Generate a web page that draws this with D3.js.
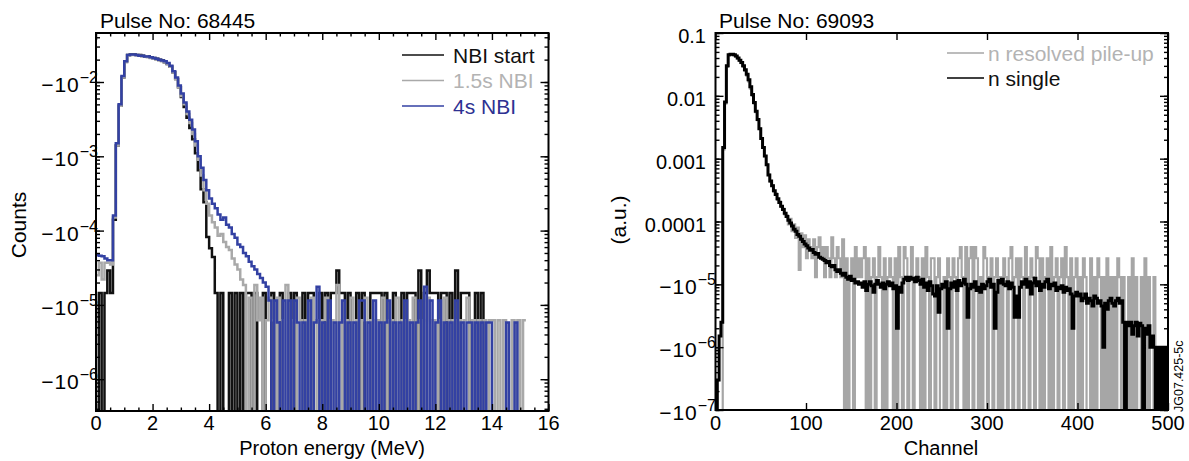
<!DOCTYPE html>
<html>
<head>
<meta charset="utf-8">
<script src="https://cdn.jsdelivr.net/npm/d3@7"></script>
<style>
  body { margin: 0; background: #fff; }
  svg { display: block; font-family: "Liberation Sans", Arial, Helvetica, sans-serif; }
</style>
</head>
<body>
<div id="chart"></div>
<script>
// ---- left panel: proton spectra, 0.1 MeV bins starting at 0 MeV ----
const energyBin = 0.1;
const nbiStart = [
  0, 1.45e-5, 0, 1.45e-5, 2.9e-5, 1.45e-5, 1.4e-4, 1.4e-3, 4.8e-3, 1.15e-2,
  1.9e-2, 2.3e-2, 2.35e-2, 2.35e-2, 2.3e-2, 2.3e-2, 2.25e-2, 2.2e-2, 2.2e-2, 2.15e-2,
  2.1e-2, 2.05e-2, 2.0e-2, 1.95e-2, 1.85e-2, 1.75e-2, 1.6e-2, 1.35e-2, 1.1e-2, 8.5e-3,
  6.3e-3, 4.6e-3, 3.3e-3, 2.4e-3, 1.7e-3, 1.1e-3, 6.5e-4, 3.6e-4, 2.4e-4, 8.2e-5,
  5.8e-5, 4.4e-5, 1.45e-5, 0, 1.45e-5, 0, 0, 1.45e-5, 0, 1.45e-5,
  0, 1.45e-5, 0, 1.45e-5, 1.45e-5, 0, 1.45e-5, 0, 0, 1.45e-5,
  0, 0, 1.45e-5, 0, 0, 1.45e-5, 0, 0, 1.45e-5, 0,
  1.45e-5, 0, 0, 1.45e-5, 0, 1.45e-5, 1.45e-5, 0, 0, 1.45e-5,
  0, 1.45e-5, 0, 1.45e-5, 1.45e-5, 2.9e-5, 1.45e-5, 1.45e-5, 0, 1.45e-5,
  0, 0, 1.45e-5, 0, 1.45e-5, 0, 0, 1.45e-5, 1.45e-5, 1.45e-5,
  1.45e-5, 0, 1.45e-5, 0, 0, 1.45e-5, 0, 0, 1.45e-5, 0,
  1.45e-5, 1.45e-5, 1.45e-5, 0, 2.9e-5, 0, 1.45e-5, 2.9e-5, 1.45e-5, 1.45e-5,
  1.45e-5, 0, 1.45e-5, 1.45e-5, 0, 1.45e-5, 0, 2.9e-5, 0, 1.45e-5,
  1.45e-5, 1.45e-5, 0, 0, 1.45e-5, 0, 1.45e-5, 0, 0, 0,
  0, 0, 0, 0, 0, 0, 0, 0, 0, 0, 0, 0
];
const nbi15s = [
  2.5e-5, 3.7e-5, 2.2e-5, 3.7e-5, 3.7e-5, 3.5e-5, 1.5e-4, 1.4e-3, 4.8e-3, 1.15e-2,
  1.85e-2, 2.25e-2, 2.3e-2, 2.3e-2, 2.3e-2, 2.25e-2, 2.2e-2, 2.2e-2, 2.15e-2, 2.1e-2,
  2.05e-2, 2.0e-2, 1.95e-2, 1.9e-2, 1.85e-2, 1.75e-2, 1.6e-2, 1.35e-2, 1.1e-2, 8.5e-3,
  6.5e-3, 5.0e-3, 3.7e-3, 2.8e-3, 2.0e-3, 1.4e-3, 9.0e-4, 5.5e-4, 3.5e-4, 2.3e-4,
  1.6e-4, 1.3e-4, 1.1e-4, 8.5e-5, 9.0e-5, 7.0e-5, 6.0e-5, 5.5e-5, 4.2e-5, 3.5e-5,
  3.0e-5, 2.2e-5, 1.85e-5, 0, 1.25e-5, 0, 1.85e-5, 6.2e-6, 1.25e-5, 0,
  6.2e-6, 1.25e-5, 6.2e-6, 0, 1.25e-5, 6.2e-6, 0, 1.85e-5, 0, 6.2e-6,
  0, 1.25e-5, 6.2e-6, 0, 6.2e-6, 0, 1.25e-5, 0, 6.2e-6, 0,
  6.2e-6, 1.25e-5, 0, 6.2e-6, 0, 1.85e-5, 0, 6.2e-6, 6.2e-6, 0,
  1.25e-5, 0, 6.2e-6, 0, 6.2e-6, 1.25e-5, 0, 6.2e-6, 0, 6.2e-6,
  0, 1.25e-5, 0, 6.2e-6, 6.2e-6, 0, 1.25e-5, 0, 6.2e-6, 0,
  6.2e-6, 0, 1.25e-5, 0, 6.2e-6, 0, 6.2e-6, 1.25e-5, 0, 6.2e-6,
  0, 6.2e-6, 0, 1.25e-5, 6.2e-6, 0, 6.2e-6, 0, 6.2e-6, 0,
  6.2e-6, 1.25e-5, 0, 6.2e-6, 0, 6.2e-6, 0, 6.2e-6, 0, 6.2e-6,
  6.2e-6, 0, 6.2e-6, 0, 6.2e-6, 0, 0, 6.2e-6, 0, 6.2e-6, 0, 6.2e-6
];
const nbi4s = [
  4.7e-5, 4.6e-5, 4.5e-5, 4.2e-5, 4.0e-5, 4.0e-5, 1.6e-4, 1.5e-3, 5.0e-3, 1.2e-2,
  1.9e-2, 2.3e-2, 2.35e-2, 2.35e-2, 2.3e-2, 2.25e-2, 2.25e-2, 2.2e-2, 2.2e-2, 2.15e-2,
  2.1e-2, 2.05e-2, 2.0e-2, 1.95e-2, 1.9e-2, 1.8e-2, 1.65e-2, 1.4e-2, 1.15e-2, 9.0e-3,
  7.0e-3, 5.3e-3, 4.0e-3, 3.1e-3, 2.3e-3, 1.6e-3, 1.0e-3, 7.0e-4, 4.8e-4, 3.5e-4,
  2.7e-4, 2.3e-4, 2.0e-4, 1.65e-4, 1.4e-4, 1.5e-4, 1.2e-4, 1.1e-4, 9.0e-5, 8.0e-5,
  6.5e-5, 6.0e-5, 5.0e-5, 4.5e-5, 3.8e-5, 3.3e-5, 3.0e-5, 2.6e-5, 2.3e-5, 2.0e-5,
  1.75e-5, 1.15e-5, 0, 1.15e-5, 5.8e-6, 0, 1.15e-5, 0, 1.15e-5, 0,
  1.15e-5, 5.8e-6, 0, 5.8e-6, 0, 1.15e-5, 0, 5.8e-6, 1.75e-5, 0,
  5.8e-6, 0, 1.15e-5, 0, 5.8e-6, 0, 5.8e-6, 1.15e-5, 0, 5.8e-6,
  0, 5.8e-6, 0, 1.15e-5, 1.15e-5, 0, 5.8e-6, 0, 1.15e-5, 0,
  5.8e-6, 0, 5.8e-6, 1.15e-5, 0, 5.8e-6, 0, 5.8e-6, 0, 1.15e-5,
  0, 5.8e-6, 0, 5.8e-6, 1.15e-5, 0, 1.75e-5, 0, 1.15e-5, 0,
  5.8e-6, 1.15e-5, 0, 5.8e-6, 0, 5.8e-6, 0, 1.15e-5, 0, 5.8e-6,
  0, 5.8e-6, 5.8e-6, 0, 5.8e-6, 0, 5.8e-6, 0, 5.8e-6, 5.8e-6,
  0, 0, 0, 0, 0, 5.8e-6, 0, 0, 5.8e-6, 0, 0, 0
];

// ---- right panel: neutron spectra, 2-channel bins starting at channel 0 ----
const channelBin = 2;
const nSingle = [
  0, 3e-7, 1.5e-6, 2.5e-6, 1.5e-3, 8e-3, 0.03, 0.045, 0.046, 0.046,
  0.045, 0.043, 0.04, 0.037, 0.034, 0.03, 0.026, 0.022, 0.018, 0.014,
  0.0105, 0.0078, 0.0057, 0.0042, 0.003, 0.0021, 0.0015, 0.0011, 8e-4, 5.5e-4,
  4.4e-4, 3.7e-4, 3.1e-4, 2.7e-4, 2.3e-4, 2e-4, 1.75e-4, 1.55e-4, 1.35e-4, 1.2e-4,
  1.05e-4, 9.5e-5, 8.5e-5, 7.5e-5, 7e-5, 6.2e-5, 5.8e-5, 5.2e-5, 4.8e-5, 4.4e-5,
  4.1e-5, 3.8e-5, 3.5e-5, 3.6e-5, 3.2e-5, 3.0e-5, 3.1e-5, 2.7e-5, 2.6e-5, 2.5e-5,
  2.4e-5, 2.2e-5, 2.3e-5, 2.0e-5, 1.9e-5, 2.0e-5, 1.7e-5, 1.6e-5, 1.7e-5, 1.5e-5,
  1.4e-5, 1.5e-5, 1.3e-5, 1.2e-5, 1.35e-5, 1.15e-5, 1.2e-5, 1.05e-5, 1.1e-5, 1.0e-5,
  1.05e-5, 9e-6, 1.1e-5, 8e-6, 1e-5, 1.1e-5, 9.5e-6, 7.5e-6, 1.0e-5, 1.15e-5,
  1.0e-5, 9e-6, 1.05e-5, 8.5e-6, 1.0e-5, 1.1e-5, 9.5e-6, 1.05e-5, 8.5e-6, 9.5e-6,
  2e-6, 9e-6, 7.5e-6, 1.05e-5, 1.2e-5, 1.3e-5, 1.15e-5, 1.3e-5, 1.2e-5, 1.25e-5,
  1.1e-5, 1.3e-5, 1.15e-5, 1.0e-5, 1.2e-5, 9e-6, 1.05e-5, 8e-6, 1.1e-5, 9.5e-6,
  7e-6, 6.5e-6, 9.5e-6, 3.6e-6, 8.5e-6, 1.0e-5, 9e-6, 1.1e-5, 2e-6, 8.5e-6,
  1.05e-5, 9e-6, 1.1e-5, 8e-6, 1.15e-5, 9.5e-6, 1.05e-5, 1.2e-5, 1.0e-5, 3e-6,
  8.5e-6, 1.0e-5, 9e-6, 1.1e-5, 8e-6, 9e-6, 7.5e-6, 1.0e-5, 8.5e-6, 9.5e-6,
  1.1e-5, 1.2e-5, 9e-6, 1.0e-5, 2e-6, 7.5e-6, 1.15e-5, 1.05e-5, 1.2e-5, 1.0e-5,
  9.5e-6, 1.1e-5, 8.5e-6, 1.05e-5, 9e-6, 3e-6, 6.5e-6, 3e-6, 9e-6, 1.1e-5,
  1.0e-5, 1.2e-5, 9e-6, 1.1e-5, 7e-6, 1.05e-5, 1.25e-5, 9.5e-6, 1.1e-5, 8e-6,
  1.0e-5, 9e-6, 1.1e-5, 1.2e-5, 8.5e-6, 1.0e-5, 9.5e-6, 1.05e-5, 8e-6, 9e-6,
  8.5e-6, 9.5e-6, 7.5e-6, 9e-6, 8e-6, 8.5e-6, 7e-6, 2e-6, 6.5e-6, 7.5e-6,
  6.5e-6, 7e-6, 5.5e-6, 6e-6, 7e-6, 5e-6, 6e-6, 5.5e-6, 4.5e-6, 6.5e-6,
  6e-6, 5e-6, 5.5e-6, 4.5e-6, 1e-6, 5e-6, 4e-6, 5.5e-6, 6e-6, 5e-6,
  4.5e-6, 5.5e-6, 6e-6, 5e-6, 5.5e-6, 2.5e-6, 0, 2.5e-6, 2.2e-6, 2.5e-6,
  1.6e-6, 2.2e-6, 2.5e-6, 1.5e-6, 2.4e-6, 2.2e-6, 0, 2e-6, 1.6e-6, 2.2e-6,
  1e-6, 1.5e-6, 1e-6, 0, 1e-6, 0, 1e-6, 0, 1e-6, 0
];
const nPileUp = [
  0, 0, 0, 0, 1.4e-3, 7.5e-3, 0.029, 0.044, 0.045, 0.045,
  0.044, 0.042, 0.039, 0.036, 0.033, 0.029, 0.025, 0.021, 0.017, 0.013,
  0.01, 0.0075, 0.0055, 0.0041, 0.003, 0.0021, 0.0015, 0.0011, 8e-4, 5.6e-4,
  4.3e-4, 3.8e-4, 3.0e-4, 2.8e-4, 2.2e-4, 2.1e-4, 1.7e-4, 1.6e-4, 1.3e-4, 1.25e-4,
  9e-5, 1.1e-4, 7e-5, 9e-5, 5.5e-5, 8e-5, 1.7e-5, 6.5e-5, 3.9e-5, 6e-5,
  2.6e-5, 5.2e-5, 3.9e-5, 2.6e-5, 5.2e-5, 1.3e-5, 3.9e-5, 5.6e-5, 2.6e-5, 3.9e-5,
  1.3e-5, 3.9e-5, 2.6e-5, 1.3e-5, 5.6e-5, 2.6e-5, 1.3e-5, 3.9e-5, 2.6e-5, 1.3e-5,
  5.2e-5, 0, 2.6e-5, 0, 1.3e-5, 2.6e-5, 0, 3.9e-5, 1.3e-5, 2.6e-5,
  1.3e-5, 2.6e-5, 3.9e-5, 0, 2.6e-5, 0, 1.3e-5, 2.6e-5, 0, 1.3e-5,
  3.9e-5, 1.3e-5, 0, 2.6e-5, 0, 1.3e-5, 2.6e-5, 1.3e-5, 0, 2.6e-5,
  0, 3.9e-5, 1.3e-5, 0, 3.9e-5, 2.6e-5, 0, 1.3e-5, 3.9e-5, 0,
  1.3e-5, 2.6e-5, 1.3e-5, 0, 2.6e-5, 0, 3.9e-5, 1.3e-5, 0, 2.6e-5,
  2.6e-5, 0, 1.3e-5, 2.6e-5, 0, 0, 1.3e-5, 0, 2.6e-5, 1.3e-5,
  0, 2.6e-5, 1.3e-5, 0, 2.6e-5, 3.9e-5, 1.3e-5, 0, 3.9e-5, 0,
  2.6e-5, 3.9e-5, 0, 3.9e-5, 2.6e-5, 0, 1.3e-5, 0, 3.9e-5, 2.6e-5,
  0, 1.3e-5, 2.6e-5, 0, 1.3e-5, 2.6e-5, 0, 1.3e-5, 0, 2.6e-5,
  1.3e-5, 0, 2.6e-5, 3.9e-5, 0, 1.3e-5, 2.6e-5, 0, 2.6e-5, 1.3e-5,
  0, 3.9e-5, 1.3e-5, 0, 2.6e-5, 1.3e-5, 0, 3.9e-5, 2.6e-5, 0,
  2.6e-5, 0, 1.3e-5, 2.6e-5, 0, 3.9e-5, 0, 1.3e-5, 2.6e-5, 0,
  1.3e-5, 2.6e-5, 0, 3.9e-5, 1.3e-5, 0, 2.6e-5, 0, 1.3e-5, 2.6e-5,
  0, 1.3e-5, 0, 2.6e-5, 1.3e-5, 0, 0, 2.6e-5, 0, 1.3e-5,
  0, 2.6e-5, 1.3e-5, 0, 1.3e-5, 0, 2.6e-5, 0, 1.3e-5, 0,
  1.3e-5, 0, 2.6e-5, 1.3e-5, 0, 1.3e-5, 0, 0, 1.3e-5, 0,
  2.6e-5, 0, 1.3e-5, 0, 0, 1.3e-5, 0, 2.6e-5, 0, 1.3e-5,
  0, 0, 1.3e-5, 0, 0, 0, 0, 0, 0, 0
];

// ---- ticks and labels ----
const leftXTicks = [0, 2, 4, 6, 8, 10, 12, 14, 16];
const leftXMinor = [0.5, 1, 1.5, 2.5, 3, 3.5, 4.5, 5, 5.5, 6.5, 7, 7.5, 8.5, 9, 9.5,
  10.5, 11, 11.5, 12.5, 13, 13.5, 14.5, 15, 15.5];
const leftYTicks = [1e-2, 1e-3, 1e-4, 1e-5, 1e-6];
const leftYExp = ["\u22122", "\u22123", "\u22124", "\u22125", "\u22126"];
const rightXTicks = [0, 100, 200, 300, 400, 500];
const rightYTicks = [1e-1, 1e-2, 1e-3, 1e-4, 1e-5, 1e-6, 1e-7];
const rightYText = ["0.1", "0.01", "0.001", "0.0001", "\u221210", "\u221210", "\u221210"];
const rightYExp = [null, null, null, null, "\u22125", "\u22126", "\u22127"];

const W = 1189, H = 461;
const svg = d3.select("#chart").append("svg").attr("width", W).attr("height", H);

function stepPath(values, binW, x, y, bottom) {
  const pts = values.map((v, i) => [x(i * binW), v > 0 ? y(v) : bottom]);
  pts.push([x(values.length * binW), pts[pts.length - 1][1]]);
  return d3.line().curve(d3.curveStepAfter)(pts);
}

function frameTicks(g, x, y, xMajor, xMinor, yMajor) {
  const [x0, x1] = x.range();
  const [y1, y0] = y.range();
  const minorY = y.ticks();
  const tk = (sel) => sel.call(s => s.select(".domain").remove())
    .selectAll("line").attr("stroke", "#000").attr("stroke-width", 1.4);
  g.append("g").attr("transform", `translate(${x0},0)`)
    .call(d3.axisLeft(y).tickValues(minorY).tickSize(-4).tickFormat("")).call(tk);
  g.append("g").attr("transform", `translate(${x0},0)`)
    .call(d3.axisLeft(y).tickValues(yMajor).tickSize(-8).tickFormat("")).call(tk);
  g.append("g").attr("transform", `translate(${x1},0)`)
    .call(d3.axisRight(y).tickValues(minorY).tickSize(-4).tickFormat("")).call(tk);
  g.append("g").attr("transform", `translate(${x1},0)`)
    .call(d3.axisRight(y).tickValues(yMajor).tickSize(-8).tickFormat("")).call(tk);
  if (xMinor) {
    g.append("g").attr("transform", `translate(0,${y1})`)
      .call(d3.axisBottom(x).tickValues(xMinor).tickSize(-3.5).tickFormat("")).call(tk);
    g.append("g").attr("transform", `translate(0,${y0})`)
      .call(d3.axisTop(x).tickValues(xMinor).tickSize(-3.5).tickFormat("")).call(tk);
  }
  g.append("g").attr("transform", `translate(0,${y1})`)
    .call(d3.axisBottom(x).tickValues(xMajor).tickSize(-7).tickFormat("")).call(tk);
  g.append("g").attr("transform", `translate(0,${y0})`)
    .call(d3.axisTop(x).tickValues(xMajor).tickSize(-7).tickFormat("")).call(tk);
  g.append("rect").attr("x", x0).attr("y", y0).attr("width", x1 - x0).attr("height", y1 - y0)
    .attr("fill", "none").attr("stroke", "#000").attr("stroke-width", 2);
}

function expText(sel, base, exp) {
  sel.append("tspan").attr("letter-spacing", exp ? 1 : 0).text(base);
  if (exp) sel.append("tspan").attr("dy", -9).attr("font-size", 16).text(exp);
}

// ================= left panel =================
const xL = d3.scaleLinear().domain([0, 16]).range([96, 548.5]);
const yL = d3.scaleLog().domain([Math.pow(10, -6.428), Math.pow(10, -1.3405)]).range([411, 33]);
const gL = svg.append("g");
svg.append("clipPath").attr("id", "clipL").append("rect")
  .attr("x", 96).attr("y", 33).attr("width", 452.5).attr("height", 378);

const leftSeries = [
  { name: "NBI start", values: nbiStart, color: "#111", text: "#111" },
  { name: "1.5s NBI", values: nbi15s, color: "#a9a9a9", text: "#b3b3b3" },
  { name: "4s NBI", values: nbi4s, color: "#3341a3", text: "#2e3192" }
];
const plotL = gL.append("g").attr("clip-path", "url(#clipL)");
leftSeries.forEach(s => {
  plotL.append("path").attr("d", stepPath(s.values, energyBin, xL, yL, 416))
    .attr("fill", "none").attr("stroke", s.color).attr("stroke-width", 2.5)
    .attr("stroke-linejoin", "miter");
});
frameTicks(gL, xL, yL, leftXTicks, leftXMinor, leftYTicks);

gL.selectAll(".xl").data(leftXTicks).enter().append("text")
  .attr("x", d => xL(d)).attr("y", 430).attr("text-anchor", "middle")
  .attr("font-size", 20).text(d => d);
leftYTicks.forEach((v, i) => {
  const t = gL.append("text").attr("x", 98).attr("y", yL(v) + 10)
    .attr("text-anchor", "end").attr("font-size", 21);
  expText(t, "\u221210", leftYExp[i]);
});

leftSeries.forEach((s, i) => {
  const ly = 55 + i * 25.5;
  gL.append("line").attr("x1", 402).attr("x2", 444).attr("y1", ly).attr("y2", ly)
    .attr("stroke", s.color).attr("stroke-width", 1.5);
  gL.append("text").attr("x", 453).attr("y", ly + 7.5).attr("font-size", 21)
    .attr("fill", s.text).text(s.name);
});

gL.append("text").attr("x", 100).attr("y", 28).attr("font-size", 21).text("Pulse No: 68445");
gL.append("text").attr("x", 332).attr("y", 455).attr("text-anchor", "middle")
  .attr("font-size", 20).text("Proton energy (MeV)");
gL.append("text").attr("transform", "translate(26,225) rotate(-90)")
  .attr("text-anchor", "middle").attr("font-size", 21).text("Counts");

// ================= right panel =================
const xR = d3.scaleLinear().domain([0, 500]).range([715.5, 1168]);
const yR = d3.scaleLog().domain([1e-7, 1e-1]).range([410, 33]);
const gR = svg.append("g");
svg.append("clipPath").attr("id", "clipR").append("rect")
  .attr("x", 715.5).attr("y", 33).attr("width", 452.5).attr("height", 377);

const rightSeries = [
  { name: "n resolved pile-up", values: nPileUp, color: "#a6a6a6", text: "#b3b3b3", w: 2.2 },
  { name: "n single", values: nSingle, color: "#000", text: "#111", w: 3 }
];
const plotR = gR.append("g").attr("clip-path", "url(#clipR)");
rightSeries.forEach(s => {
  plotR.append("path").attr("d", stepPath(s.values, channelBin, xR, yR, 415))
    .attr("fill", "none").attr("stroke", s.color).attr("stroke-width", s.w);
});
frameTicks(gR, xR, yR, rightXTicks, null, rightYTicks);

gR.selectAll(".xr").data(rightXTicks).enter().append("text")
  .attr("x", d => xR(d)).attr("y", 430).attr("text-anchor", "middle")
  .attr("font-size", 20).text(d => d);
rightYTicks.forEach((v, i) => {
  const t = gR.append("text").attr("x", rightYExp[i] ? 716 : 706).attr("y", yR(v) + 10)
    .attr("text-anchor", "end").attr("font-size", rightYExp[i] ? 21 : 20);
  expText(t, rightYText[i], rightYExp[i]);
});

rightSeries.forEach((s, i) => {
  const ly = 53 + i * 25;
  gR.append("line").attr("x1", 947).attr("x2", 984).attr("y1", ly).attr("y2", ly)
    .attr("stroke", s.color).attr("stroke-width", 1.5);
  gR.append("text").attr("x", 988).attr("y", ly + 7.5).attr("font-size", 21)
    .attr("fill", s.text).text(s.name);
});

gR.append("text").attr("x", 719).attr("y", 28).attr("font-size", 21).text("Pulse No: 69093");
gR.append("text").attr("x", 941).attr("y", 455).attr("text-anchor", "middle")
  .attr("font-size", 20).text("Channel");
gR.append("text").attr("transform", "translate(626,220) rotate(-90)")
  .attr("text-anchor", "middle").attr("font-size", 21).text("(a.u.)");
gR.append("text").attr("transform", "translate(1183,412) rotate(-90)")
  .attr("font-size", 12.5).text("JG07.425-5c");
</script>
</body>
</html>
